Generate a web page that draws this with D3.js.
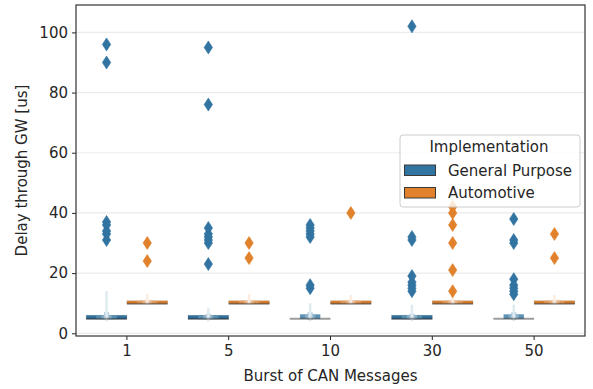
<!DOCTYPE html>
<html>
<head>
<meta charset="utf-8">
<script src="https://cdn.jsdelivr.net/npm/d3@7"></script>
<style>
  body { margin: 0; background: #fff; }
  svg text { font-family: "DejaVu Sans", sans-serif; fill: #262626; }
</style>
</head>
<body>
<div class="BX"></div>
<script>
/*data (delay in us)*/
var categories = ["1", "5", "10", "30", "50"];
var hues = ["General Purpose", "Automotive"];
var yTicks = [0, 20, 40, 60, 80, 100];

// letter-value boxes per burst size, innermost first: [low, high]
var gpMedian = [4.8, 4.8, 4.8, 4.8, 4.8];
var gpLevels = [
  [[4.7, 6], [4.7, 6], [4.7, 6], [4.5, 7], [4, 14]],
  [[4.7, 6], [4.7, 6], [4.7, 6], [4.5, 6.5], [4, 8.5]],
  [[4.8, 4.8], [4.8, 6.3], [4.8, 6.3], [4.5, 7], [4, 10]],
  [[4.7, 6], [4.7, 6], [4.7, 6], [4.5, 6.5], [4, 9.5]],
  [[4.8, 4.8], [4.8, 6.3], [4.8, 6.3], [4.5, 7], [4, 9.5]]
];
var gpOutliers = [
  [96, 90, 37, 36, 34, 33, 31],
  [95, 76, 35, 33, 32, 31, 30, 23],
  [36, 35, 34, 33, 32, 16, 15],
  [102, 32, 31, 19, 17, 16, 15, 14],
  [38, 31, 30, 18, 16, 15, 14, 13]
];

var autoMedian = [9.8, 9.8, 9.8, 9.8, 9.8];
var autoLevels = [
  [[9.8, 10.8], [9.8, 10.8], [9.8, 10.8], [9.8, 11], [9.8, 13]],
  [[9.8, 10.8], [9.8, 10.8], [9.8, 10.8], [9.8, 11], [9.8, 13]],
  [[9.8, 10.8], [9.8, 10.8], [9.8, 10.8], [9.8, 11], [9.8, 12.7]],
  [[9.8, 10.8], [9.8, 10.8], [9.8, 10.8], [9.8, 11], [9.8, 13]],
  [[9.8, 10.8], [9.8, 10.8], [9.8, 10.8], [9.8, 11], [9.8, 12.7]]
];
var autoOutliers = [
  [30, 24],
  [30, 25],
  [40],
  [42, 40, 36, 30, 21, 14],
  [33, 25]
];

var colors = ["#3274a1", "#e1812c"];

/*dimensions*/
var width = 593, height = 389;
var margin = {top: 5, bottom: 53, left: 76, right: 8};
var fontSize = "15px";

var svg = d3.select(".BX").append("svg")
  .attr("width", width)
  .attr("height", height);

/*scales*/
var xScale = d3.scaleBand()
  .domain(categories)
  .range([margin.left, width - margin.right]);

var yScale = d3.scaleLinear()
  .domain([-0.9, 109.1])
  .range([height - margin.bottom, margin.top]);

var hueScale = d3.scaleBand()
  .domain(hues)
  .range([0.1, 0.9]);

// grid
svg.append("g")
  .selectAll("line")
  .data(yTicks)
  .join("line")
  .attr("x1", margin.left)
  .attr("x2", width - margin.right)
  .attr("y1", function(d){ return yScale(d); })
  .attr("y2", function(d){ return yScale(d); })
  .attr("stroke", "#ebebeb")
  .attr("stroke-width", 1.2);

/*boxen plot*/
var groups = [
  {hue: hues[0], levels: gpLevels, median: gpMedian, outliers: gpOutliers, color: colors[0]},
  {hue: hues[1], levels: autoLevels, median: autoMedian, outliers: autoOutliers, color: colors[1]}
];

var plot = svg.append("g");
var bw = xScale.bandwidth();
var boxW = hueScale.bandwidth() * bw;

groups.forEach(function(g){
  var mix = d3.interpolateRgb(g.color, "#ffffff");
  categories.forEach(function(c, i){
    var cx = xScale(c) + (hueScale(g.hue) + hueScale.bandwidth() / 2) * bw;
    var lv = g.levels[i];
    lv.forEach(function(b, k){
      var w = boxW * Math.pow(0.5, k);
      plot.append("rect")
        .attr("x", cx - w / 2)
        .attr("y", yScale(b[1]))
        .attr("width", w)
        .attr("height", Math.max(0, yScale(b[0]) - yScale(b[1])))
        .attr("fill", mix(0.85 * k / (lv.length - 1)))
        .attr("stroke", k == 0 ? "#555" : "none")
        .attr("stroke-opacity", 0.3)
        .attr("stroke-width", 0.6);
    });
    // median line
    plot.append("line")
      .attr("x1", cx - boxW / 2)
      .attr("x2", cx + boxW / 2)
      .attr("y1", yScale(g.median[i]))
      .attr("y2", yScale(g.median[i]))
      .attr("stroke", "#262626")
      .attr("stroke-opacity", 0.45)
      .attr("stroke-width", 2);
    // outliers as thin diamonds
    plot.append("g")
      .selectAll("path")
      .data(g.outliers[i])
      .join("path")
      .attr("d", "M0,-6.5L4.2,0L0,6.5L-4.2,0Z")
      .attr("transform", function(d){ return "translate(" + cx + "," + yScale(d) + ")"; })
      .attr("fill", g.color)
      .attr("stroke", g.color)
      .attr("stroke-width", 0.6);
  });
});

// axes
var xAxis = d3.axisBottom(xScale).tickSize(4).tickSizeOuter(0).tickPadding(5);
var yAxis = d3.axisLeft(yScale).tickValues(yTicks).tickSize(4).tickSizeOuter(0).tickPadding(4);

svg.append("g")
  .attr("class", "x-axis")
  .attr("transform", "translate(0," + (height - margin.bottom) + ")")
  .call(xAxis);

svg.append("g")
  .attr("class", "y-axis")
  .attr("transform", "translate(" + margin.left + ",0)")
  .call(yAxis);

svg.selectAll(".x-axis text, .y-axis text")
  .style("font-size", fontSize)
  .style("font-family", "DejaVu Sans");
svg.selectAll(".x-axis .tick line, .y-axis .tick line").attr("stroke", "#262626");
svg.selectAll(".x-axis .domain, .y-axis .domain").remove();

// frame
svg.append("rect")
  .attr("x", margin.left)
  .attr("y", margin.top)
  .attr("width", width - margin.left - margin.right)
  .attr("height", height - margin.top - margin.bottom)
  .attr("fill", "none")
  .attr("stroke", "#333")
  .attr("stroke-width", 1.2);

// labels
svg.append("text")
  .text("Burst of CAN Messages")
  .attr("x", (margin.left + width - margin.right) / 2)
  .attr("y", 381)
  .attr("text-anchor", "middle")
  .style("font-size", fontSize);

svg.append("text")
  .text("Delay through GW [us]")
  .attr("transform", "translate(27," + ((margin.top + height - margin.bottom) / 2) + ") rotate(-90)")
  .attr("text-anchor", "middle")
  .style("font-size", fontSize);

/*legend*/
var leg = svg.append("g").attr("transform", "translate(400,135)");
leg.append("rect")
  .attr("width", 180)
  .attr("height", 72)
  .attr("rx", 3)
  .attr("fill", "#fff")
  .attr("fill-opacity", 0.8)
  .attr("stroke", "#cccccc");
leg.append("text")
  .text("Implementation")
  .attr("x", 89)
  .attr("y", 17)
  .attr("text-anchor", "middle")
  .style("font-size", fontSize);
hues.forEach(function(h, i){
  leg.append("rect")
    .attr("x", 4.5)
    .attr("y", 30 + i * 22.5)
    .attr("width", 31)
    .attr("height", 10.5)
    .attr("fill", colors[i])
    .attr("stroke", "#3a3a3a")
    .attr("stroke-width", 1);
  leg.append("text")
    .text(h)
    .attr("x", 48)
    .attr("y", 40.5 + i * 22.5)
    .style("font-size", fontSize);
});
</script>
</body>
</html>
